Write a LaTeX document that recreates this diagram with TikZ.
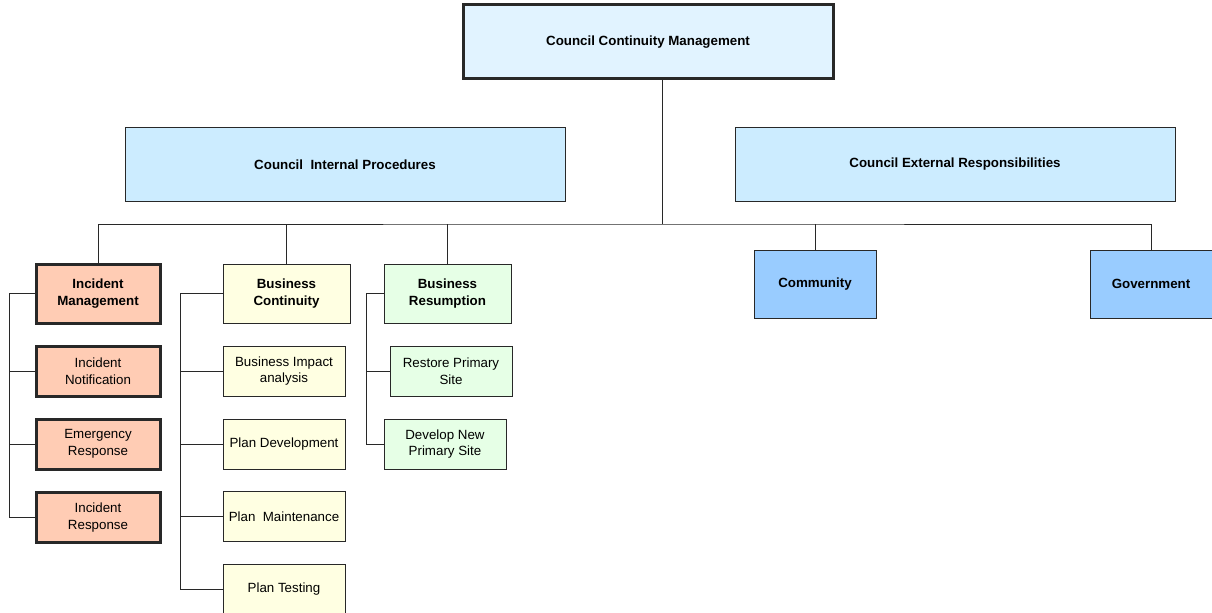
\documentclass[tikz,border=0pt]{standalone}
\usepackage{fontspec}
\setmainfont{Liberation Sans}
\usepackage{tikz}
\usetikzlibrary{positioning}
\usepackage{xcolor}
\definecolor{ccmblue}{RGB}{225,243,255}
\definecolor{secblue}{RGB}{204,236,255}
\definecolor{extblue}{RGB}{153,204,255}
\definecolor{incpeach}{RGB}{255,204,180}
\definecolor{bcyellow}{RGB}{255,255,226}
\definecolor{brgreen}{RGB}{230,255,230}
\definecolor{edge}{RGB}{40,40,40}

\begin{document}
\begin{tikzpicture}[
  x=0.75pt, y=-0.75pt,
  font=\fontsize{10}{12.5}\selectfont,
  box/.style={draw=edge,line width=0.75pt,align=center,inner sep=2pt},
  heavy/.style={box,line width=2.25pt},
  head/.style={font=\fontsize{10}{12.5}\selectfont\bfseries},
  sub/.style={minimum width=91.5pt,minimum height=37.5pt},
  tie/.style={draw=edge,line width=0.75pt}
]
  \useasboundingbox (0,0) rectangle (1212,613);

  % top level
  \node[heavy,head,fill=ccmblue,minimum width=277.5pt,minimum height=55.5pt]
    (ccm) at (648,42) {Council Continuity Management};
  \node[box,head,fill=secblue,minimum width=330pt,minimum height=54.75pt]
    (cip) at (345,164.5) {Council\ \ Internal Procedures};
  \node[box,head,fill=secblue,minimum width=330pt,minimum height=54.75pt]
    (cer) at (955,164.5) {Council External Responsibilities};

  % incident management
  \node[heavy,head,fill=incpeach,minimum width=93pt,minimum height=44.25pt]
    (im) at (98,293.5) {Incident\\Management};
  \node[heavy,fill=incpeach,minimum width=93pt,minimum height=37.5pt]
    (inot) at (98,371) {Incident\\Notification};
  \node[heavy,fill=incpeach,minimum width=93pt,minimum height=37.5pt]
    (er) at (98,444) {Emergency\\Response};
  \node[heavy,fill=incpeach,minimum width=93pt,minimum height=38pt]
    (ir) at (98,517.5) {Incident\\Response};

  % business continuity
  \node[box,head,fill=bcyellow,minimum width=95.25pt,minimum height=44.25pt]
    (bc) at (286.5,293.5) {Business\\Continuity};
  \node[box,sub,fill=bcyellow] (bia) at (284,371) {Business Impact\\analysis};
  \node[box,sub,fill=bcyellow] (pd) at (284,444) {Plan Development};
  \node[box,sub,fill=bcyellow] (pm) at (284,516.5) {Plan\ \ Maintenance};
  \node[box,sub,fill=bcyellow] (pt) at (284,589.5) {Plan Testing};

  % business resumption
  \node[box,head,fill=brgreen,minimum width=95.25pt,minimum height=44.25pt]
    (br) at (447.5,293.5) {Business\\Resumption};
  \node[box,sub,fill=brgreen] (rps) at (451,371.5) {Restore Primary\\Site};
  \node[box,sub,fill=brgreen] (dnps) at (445,444) {Develop New\\Primary Site};

  % external
  \node[box,head,fill=extblue,minimum width=91.5pt,minimum height=51pt]
    (com) at (815,284) {Community};
  \node[box,head,fill=extblue,minimum width=91.5pt,minimum height=51pt]
    (gov) at (1151,284) {Government};

  % tree lines
  \coordinate (hub) at (662,224);
  \draw[tie] (ccm.south -| hub) -- (hub);
  \draw[tie] (im.north) |- (hub) -| (gov.north);
  \foreach \n in {bc,br,com}
    \draw[tie] (\n.north) -- (\n.north |- hub);

  \coordinate (imrail) at (9,293.5);
  \draw[tie] (im.west) -- (imrail) |- (ir.west);
  \foreach \n in {inot,er}
    \draw[tie] (\n.west) -- (\n.west -| imrail);

  \coordinate (bcrail) at (180,293.5);
  \draw[tie] (bc.west) -- (bcrail) |- (pt.west);
  \foreach \n in {bia,pd,pm}
    \draw[tie] (\n.west) -- (\n.west -| bcrail);

  \coordinate (brrail) at (366,293.5);
  \draw[tie] (br.west) -- (brrail) |- (dnps.west);
  \draw[tie] (rps.west) -- (rps.west -| brrail);
\end{tikzpicture}
\end{document}
